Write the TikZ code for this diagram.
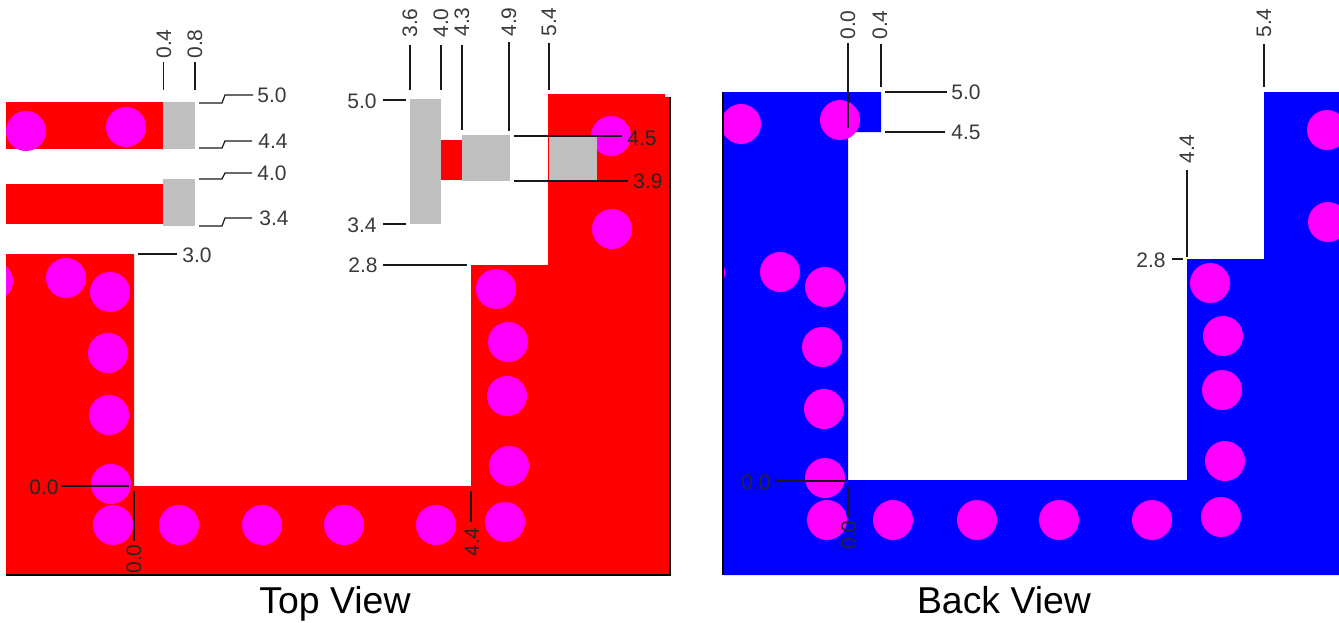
\documentclass[tikz,border=0pt]{standalone}
\usepackage{fontspec}
\setmainfont{Liberation Sans}
\definecolor{cred}{HTML}{FF0000}
\definecolor{cblue}{HTML}{0000FF}
\definecolor{cvia}{HTML}{FF00FF}
\definecolor{cpad}{HTML}{BFBFBF}
\definecolor{cdim}{HTML}{3A3A3A}
\tikzset{
  dimlabel/.style={inner sep=0pt,text=cdim,font=\fontsize{10.5}{12}\selectfont},
  dimup/.style={dimlabel,rotate=90},
  darklabel/.style={dimlabel,text=black!85},
  darkup/.style={darklabel,rotate=90},
  dimline/.style={draw=black!90,line width=0.6pt},
  edgeline/.style={draw=black,line width=1pt},
  padrect/.style={fill=cpad,draw=none},
  title/.style={inner sep=0pt,anchor=base,text=black,font=\fontsize{18.7}{22}\selectfont},
  via/.style={fill=cvia,draw=none}
}
\newcommand{\viaat}[2]{\fill[via] (#1,#2) circle [x radius=10pt,y radius=10pt];}
\begin{document}
\begin{tikzpicture}[x=0.5pt,y=-0.5pt]
\useasboundingbox (0,0) rectangle (1339,622);
\fill[white] (0,0) rectangle (1339,622);
% ---------- TOP VIEW ----------
\fill[cred] (6,254) -- (134,254) -- (134,486) -- (471,486) -- (471,265) -- (548,265) -- (548,94) -- (665,94) -- (665,97) -- (670,97) -- (670,574) -- (6,574) -- cycle;
\fill[cred] (6,102) rectangle (163,149);
\fill[cred] (6,184) rectangle (163,224);
\fill[cred] (441,140) rectangle (462,180);
\begin{scope}
\clip (6,0) rectangle (670,574);
\foreach \x/\y in {26/131,126/127,-7/281,66/278,110/292,108/353,109/415,111/484,113/525,179/525,262/525,344/525,436/525,505/522,509/466,507/396,508/342,496/289,611/136,612/229}{\viaat{\x}{\y}}
\end{scope}
\fill[padrect] (163,102) rectangle (195,149);
\fill[padrect] (163,179) rectangle (195,226);
\fill[padrect] (410,99) rectangle (441,224);
\fill[padrect] (462,135) rectangle (510,181);
\fill[padrect] (549,137) rectangle (597,181);
\draw[edgeline] (670,97) -- (670,574.5) -- (6,574.5);
% vertical dims
\node[dimup] (ta) at (164,44) {0.4};
\node[dimup] (tb) at (195,44) {0.8};
\node[dimup] (tc) at (410,23) {3.6};
\node[dimup] (td) at (441,23) {4.0};
\node[dimup] (te) at (462,22) {4.3};
\node[dimup] (tf) at (509,22) {4.9};
\node[dimup] (tg) at (549,22) {5.4};
\draw[dimline] (163.5,62) -- (163.5,90);
\draw[dimline] (195,62) -- (195,90);
\draw[dimline] (410,45) -- (410,90);
\draw[dimline] (441,45) -- (441,90);
\draw[dimline] (462,45) -- (462,130);
\draw[dimline] (509,42) -- (509,131);
\draw[dimline] (549,43) -- (549,90);
% horizontal dims left
\node[dimlabel] (th) at (272,95) {5.0};
\node[dimlabel] (ti) at (273,141) {4.4};
\node[dimlabel] (tj) at (272,173) {4.0};
\node[dimlabel] (tk) at (274,218) {3.4};
\node[dimlabel] (tl) at (197,255) {3.0};
\draw[dimline] (199,103) -- (222,103) -- (225,95) -- (253,95);
\draw[dimline] (199,148) -- (222,148) -- (225,141) -- (252,141);
\draw[dimline] (199,179) -- (222,179) -- (225,173) -- (252,173);
\draw[dimline] (199,226) -- (222,226) -- (225,218) -- (252,218);
\draw[dimline] (138,254) -- (177,254);
\node[dimlabel] (tm) at (362,101) {5.0};
\node[dimlabel] (tn) at (362,225) {3.4};
\node[dimlabel] (to) at (363,265) {2.8};
\draw[dimline] (383,100) -- (406,100);
\draw[dimline] (383,224) -- (406,224);
\draw[dimline] (383,265) -- (467,265);
\node[darklabel] (tp) at (642,138) {4.5};
\node[darklabel] (tq) at (648,181) {3.9};
\draw[dimline] (514,136) -- (622,136);
\draw[dimline] (514,181) -- (628,181);
\node[darklabel] (tr) at (44,487) {0.0};
\draw[dimline] (61,486) -- (129,486);
\draw[dimline] (134,491) -- (134,541);
\node[darkup] (ts) at (134,559) {0.0};
\draw[dimline] (471,491) -- (471,522);
\node[darkup] (tt) at (472,542) {4.4};
\node[title] (toptitle) at (335,613) {Top View};
% ---------- BACK VIEW ----------
\fill[cblue] (723,92) -- (881,92) -- (881,132) -- (848,132) -- (848,480) -- (1187,480) -- (1187,259) -- (1264,259) -- (1264,92) -- (1339,92) -- (1339,575) -- (723,575) -- cycle;
\begin{scope}
\clip (723,0) rectangle (1339,575);
\foreach \x/\y in {741/124,840/120,705/273,780/272,825/287,822/347,824/409,825/478,827/520,893/520,977/520,1059/520,1152/520,1221/517,1225/461,1222/390,1223/336,1210/283,1327/130,1328/222}{\viaat{\x}{\y}}
\end{scope}
\draw[edgeline] (723,92) -- (723,575);
\node[dimup] (ba) at (848,25) {0.0};
\node[dimup] (bb) at (880,25) {0.4};
\node[dimup] (bc) at (1264,23) {5.4};
\node[dimup] (bd) at (1187,149) {4.4};
\draw[dimline] (848,43) -- (848,128);
\draw[dimline] (881,44) -- (881,87);
\draw[dimline] (1264,44) -- (1264,87);
\draw[dimline] (1187,170) -- (1187,257);
\node[dimlabel] (be) at (966,92) {5.0};
\node[dimlabel] (bf) at (966,132) {4.5};
\node[dimlabel] (bg) at (1151,260) {2.8};
\draw[dimline] (885,92) -- (947,92);
\draw[dimline] (885,132) -- (945,132);
\draw[dimline] (1172,259) -- (1183,259);
\node[darklabel] (bh) at (756,482) {0.0};
\draw[dimline] (775,481) -- (845,481);
\draw[dimline] (848,487) -- (848,517);
\node[darkup] (bi) at (849,535) {0.0};
\node[title] (backtitle) at (1004,613) {Back View};
\end{tikzpicture}
\end{document}
